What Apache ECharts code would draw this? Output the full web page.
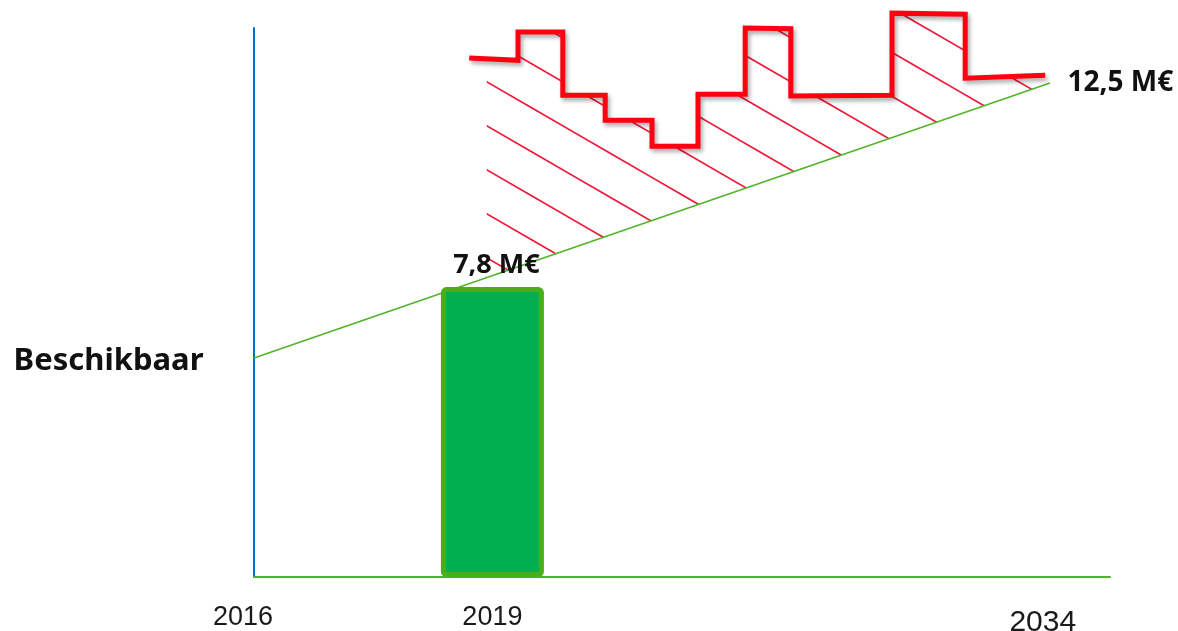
<!DOCTYPE html>
<html>
<head>
<meta charset="utf-8">
<script src="https://cdn.jsdelivr.net/npm/echarts@6/dist/echarts.min.js"></script>
<style>
html,body{margin:0;padding:0;background:#fff;}
#chart{width:1178px;height:631px;}
</style>
</head>
<body>
<div id="chart"></div>
<script>
// ---- data (schematic units) ----
const yearLabels = ['2016', '2019', '2034'];
const yearPos = [0, 29.8, 98.6];

const greenLine = [[0, 5.89], [99.5, 13.29]];
const greenLabels = ['Beschikbaar', '12,5 M€'];

const barX = [29.8];
const barValue = [7.8];
const barLabel = ['7,8 M€'];

const redStep = [
  [26.9, 13.96], [33.0, 13.90], [33.0, 14.66], [38.6, 14.66], [38.6, 12.96],
  [43.9, 12.96], [43.9, 12.29], [49.75, 12.29], [49.75, 11.59], [55.5, 11.59],
  [55.5, 12.99], [61.4, 12.99], [61.4, 14.77], [67.1, 14.75], [67.1, 12.94],
  [79.75, 12.96], [79.75, 15.17], [88.9, 15.14], [88.9, 13.42], [98.9, 13.50]
];
const hatchStartX = 29.1;

// ---- helpers ----
function lerpAt(pts, x) {
  for (let i = 0; i < pts.length - 1; i++) {
    const a = pts[i], b = pts[i + 1];
    if (x >= a[0] && x <= b[0] && b[0] !== a[0]) {
      return a[1] + (b[1] - a[1]) * (x - a[0]) / (b[0] - a[0]);
    }
  }
  return pts[pts.length - 1][1];
}
const lastRed = redStep[redStep.length - 1];
const hatchPoly = [[hatchStartX, lerpAt(redStep, hatchStartX)]]
  .concat(redStep.filter(p => p[0] > hatchStartX))
  .concat([[lastRed[0], lerpAt(greenLine, lastRed[0])], [hatchStartX, lerpAt(greenLine, hatchStartX)]]);

// hatch pattern tile
const W = 76, H = 44;
const tile = document.createElement('canvas');
tile.width = W; tile.height = H;
const tctx = tile.getContext('2d');
tctx.strokeStyle = '#f01838';
tctx.lineWidth = 1.6;
for (let k = -3; k <= 3; k++) {
  tctx.beginPath();
  tctx.moveTo(-W, -H + 20 + k * H);
  tctx.lineTo(2 * W, 2 * H + 20 + k * H);
  tctx.stroke();
}

const chart = echarts.init(document.getElementById('chart'));
const option = {
  animation: false,
  backgroundColor: '#ffffff',
  grid: { left: 254, right: 68, top: 28, bottom: 54, containLabel: false, outerBoundsMode: 'none' },
  xAxis: {
    type: 'value', min: 0, max: 107,
    splitLine: { show: false },
    axisTick: { show: false },
    axisLine: { show: true, lineStyle: { color: '#50b428', width: 2 } },
    axisLabel: {
      show: true,
      customValues: yearPos,
      margin: 27,
      color: '#1a1a1a',
      fontFamily: 'Liberation Sans',
      fontSize: 27,
      formatter: function (v) {
        const i = yearPos.indexOf(v);
        if (i < 0) return '';
        if (i === 0) return '{a|' + yearLabels[i] + '}';
        if (i === yearPos.length - 1) return '{c|' + yearLabels[i] + '}';
        return '{b|' + yearLabels[i] + '}';
      },
      rich: {
        a: { fontFamily: 'Liberation Sans', fontSize: 27, color: '#1a1a1a', padding: [0, 22, 0, 0] },
        b: { fontFamily: 'Liberation Sans', fontSize: 27, color: '#1a1a1a' },
        c: { fontFamily: 'Liberation Sans', fontSize: 30, color: '#1a1a1a', padding: [4, 0, 0, 0] }
      }
    }
  },
  yAxis: {
    type: 'value', min: 0, max: 14.77,
    splitLine: { show: false },
    axisTick: { show: false },
    axisLabel: { show: false },
    axisLine: { show: true, onZero: false, lineStyle: { color: '#0070c0', width: 2 } }
  },
  series: [
    {
      type: 'custom',
      z: 1,
      clip: false,
      silent: true,
      data: hatchPoly,
      renderItem: function (params, api) {
        if (params.dataIndex !== 0) return null;
        const pts = hatchPoly.map(p => api.coord(p));
        return {
          type: 'polygon',
          shape: { points: pts },
          style: { fill: { image: tile, repeat: 'repeat' }, stroke: null }
        };
      }
    },
    {
      type: 'line',
      z: 2,
      data: greenLine.map((p, i) => ({
        value: p,
        label: {
          show: true,
          formatter: greenLabels[i],
          position: i === 0 ? 'left' : 'right',
          distance: i === 0 ? 50 : 17,
          offset: i === 0 ? [0, 3] : [0, 0],
          fontFamily: 'Noto Sans',
          fontWeight: 'bold',
          fontSize: i === 0 ? 31 : 28,
          color: '#111111'
        }
      })),
      symbol: 'circle',
      symbolSize: 1,
      showSymbol: true,
      itemStyle: { color: 'rgba(0,0,0,0)' },
      lineStyle: { color: '#50b428', width: 1.6 }
    },
    {
      type: 'bar',
      z: 3,
      barWidth: 103,
      data: barX.map((x, i) => [x, barValue[i]]),
      itemStyle: { color: '#00b050', borderColor: '#4aad1c', borderWidth: 5, borderRadius: 3 },
      label: {
        show: true,
        position: 'top',
        distance: 8,
        offset: [4, 0],
        formatter: function (p) { return barLabel[p.dataIndex]; },
        fontFamily: 'Noto Sans',
        fontWeight: 'bold',
        fontSize: 27,
        color: '#111111'
      }
    },
    {
      type: 'line',
      z: 4,
      clip: false,
      data: redStep,
      symbol: 'none',
      lineStyle: {
        color: '#ff0010', width: 5, join: 'miter',
        shadowColor: 'rgba(0,0,0,0.35)', shadowBlur: 4, shadowOffsetX: 2, shadowOffsetY: 3
      }
    }
  ]
};
chart.setOption(option);
</script>
</body>
</html>
